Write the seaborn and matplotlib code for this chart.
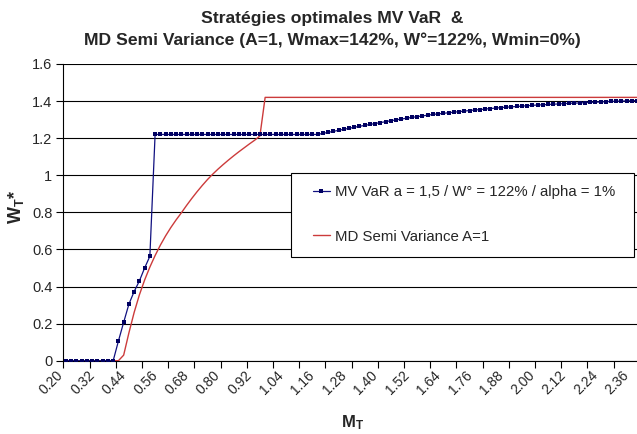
import numpy as np
import matplotlib
matplotlib.use("Agg")
import matplotlib.pyplot as plt
import seaborn as sns
from matplotlib.transforms import ScaledTranslation
from matplotlib.patches import Rectangle

# ---------------- data ----------------
# category axis M_T (0.20 .. 2.38, step 0.02)
m_t = np.round(np.arange(0.20, 2.3801, 0.02), 2)

mv_var_rise = [0.106, 0.207, 0.305, 0.373, 0.43, 0.50, 0.563]
mv_var_tail = [1.220, 1.226, 1.231, 1.237, 1.242, 1.248, 1.253, 1.259, 1.264, 1.269,
               1.274, 1.279, 1.284, 1.289, 1.294, 1.299, 1.303, 1.308, 1.312, 1.316,
               1.320, 1.324, 1.328, 1.331, 1.334, 1.337, 1.340, 1.343, 1.346, 1.349,
               1.352, 1.354, 1.357, 1.360, 1.362, 1.365, 1.367, 1.369, 1.371, 1.373,
               1.375, 1.377, 1.379, 1.380, 1.382, 1.383, 1.385, 1.386, 1.388, 1.389,
               1.390, 1.392, 1.393, 1.394, 1.395, 1.397, 1.398, 1.399, 1.400, 1.401,
               1.402, 1.403]
mv_var = [0.0] * 10 + mv_var_rise + [1.22] * 31 + mv_var_tail

md_semi_rise = [0.03, 0.15, 0.26, 0.355, 0.435, 0.505, 0.567, 0.623, 0.673, 0.718,
                0.759, 0.797, 0.837, 0.875, 0.911, 0.945, 0.977, 1.006, 1.033, 1.058,
                1.082, 1.105, 1.127, 1.148, 1.169, 1.189, 1.212]
md_semi = [0.0] * 11 + md_semi_rise + [1.42] * 72

label_mv = "MV VaR a = 1,5 / W° = 122% / alpha = 1%"
label_md = "MD Semi Variance A=1"

x_tick_vals = [0.20, 0.32, 0.44, 0.56, 0.68, 0.80, 0.92, 1.04, 1.16, 1.28,
               1.40, 1.52, 1.64, 1.76, 1.88, 2.00, 2.12, 2.24, 2.36]
x_tick_labels = ["0.20", "0.32", "0.44", "0.56", "0.68", "0.80", "0.92", "1.04", "1.16",
                 "1.28", "1.40", "1.52", "1.64", "1.76", "1.88", "2.00", "2.12", "2.24", "2.36"]
y_tick_vals = [0, 0.2, 0.4, 0.6, 0.8, 1.0, 1.2, 1.4, 1.6]
y_tick_labels = ["0", "0.2", "0.4", "0.6", "0.8", "1", "1.2", "1.4", "1.6"]

# ---------------- style ----------------
sns.set_theme(style="white")
plt.rcParams["font.family"] = ["Liberation Sans", "DejaVu Sans"]
plt.rcParams["mathtext.fontset"] = "custom"
plt.rcParams["mathtext.bf"] = "Liberation Sans:bold"
plt.rcParams["mathtext.rm"] = "Liberation Sans"

W, H = 637, 434
fig = plt.figure(figsize=(W / 100, H / 100), dpi=100)
fig.patch.set_facecolor("white")

ax_left, ax_right = 63.4, 637.0
y_top, y_bot = 64.0, 360.7
ax = fig.add_axes([ax_left / W, (H - y_bot) / H, (ax_right - ax_left) / W, (y_bot - y_top) / H])
ax.set_facecolor("white")

navy = "#101080"
red = "#cc3b3b"

sns.lineplot(x=m_t, y=md_semi, ax=ax, color=red, lw=1.0, label=label_md, zorder=3)
sns.lineplot(x=m_t, y=mv_var, ax=ax, color=navy, lw=0.9, marker="s", markersize=2.3,
             markeredgewidth=0, markerfacecolor="#000060", label=label_mv, zorder=4)

px_per_unit = 262.0
ax.set_xlim(0.19, 0.19 + (ax_right - ax_left) / px_per_unit)
ax.set_ylim(0, 1.6)

# grid
ax.set_yticks(y_tick_vals)
ax.set_yticklabels(y_tick_labels, fontsize=10.5)
ax.yaxis.grid(True, color="black", lw=0.8)
ax.xaxis.grid(False)
ax.set_axisbelow(True)

ax.set_xticks(x_tick_vals)
ax.set_xticklabels(x_tick_labels, fontsize=10, rotation=45, ha="right",
                   rotation_mode="anchor", va="center")
ax.set_xticks(np.round(np.arange(0.19, 2.38, 0.10), 2), minor=True)
ax.tick_params(axis="x", which="major", length=0, pad=9)
ax.tick_params(axis="x", which="minor", length=5, width=0.8, color="black", direction="out", bottom=True)
ax.tick_params(axis="y", which="major", length=5, width=0.8, color="black", direction="out", left=True, pad=3)
for lbl in ax.get_xticklabels():
    lbl.set_transform(lbl.get_transform() + ScaledTranslation(-5 / 100, 0, fig.dpi_scale_trans))

for s in ["top", "right"]:
    ax.spines[s].set_visible(False)
for s in ["left", "bottom"]:
    ax.spines[s].set_color("black")
    ax.spines[s].set_linewidth(0.8)

# axis labels
fig.text(16 / W, 1 - 207 / H, r"$\mathbf{W_T}$*", rotation=90, ha="center", va="center",
         fontsize=13, fontweight="bold")
fig.text(353 / W, 1 - 423 / H, r"$\mathbf{M_T}$", ha="center", va="center",
         fontsize=12, fontweight="bold")

# title
fig.text(332 / W, 1 - 18 / H, "Stratégies optimales MV VaR  &", ha="center", va="center",
         fontsize=12.6, fontweight="bold")
fig.text(332 / W, 1 - 40 / H, "MD Semi Variance (A=1, Wmax=142%, W°=122%, Wmin=0%)",
         ha="center", va="center", fontsize=12.6, fontweight="bold")

# legend box
aw, ah = ax_right - ax_left, y_bot - y_top
bx0, bx1, by0, by1 = 290.7, 634.0, 172.7, 256.7
rect = Rectangle(((bx0 - ax_left) / aw, (y_bot - by1) / ah), (bx1 - bx0) / aw, (by1 - by0) / ah,
                 transform=ax.transAxes, facecolor="white", edgecolor="black", lw=0.8,
                 zorder=6, clip_on=False)
ax.add_patch(rect)
handles, labels = ax.get_legend_handles_labels()
order = [labels.index(label_mv), labels.index(label_md)]
leg = ax.legend([handles[i] for i in order], [labels[i] for i in order],
                loc="upper left", bbox_to_anchor=((313 - ax_left) / aw, (y_bot - 185) / ah),
                frameon=False, fontsize=10.8, borderpad=0, borderaxespad=0,
                handlelength=1.1, handletextpad=0.35, labelspacing=2.05)
leg.set_zorder(7)

fig.savefig("out.png", dpi=100)
